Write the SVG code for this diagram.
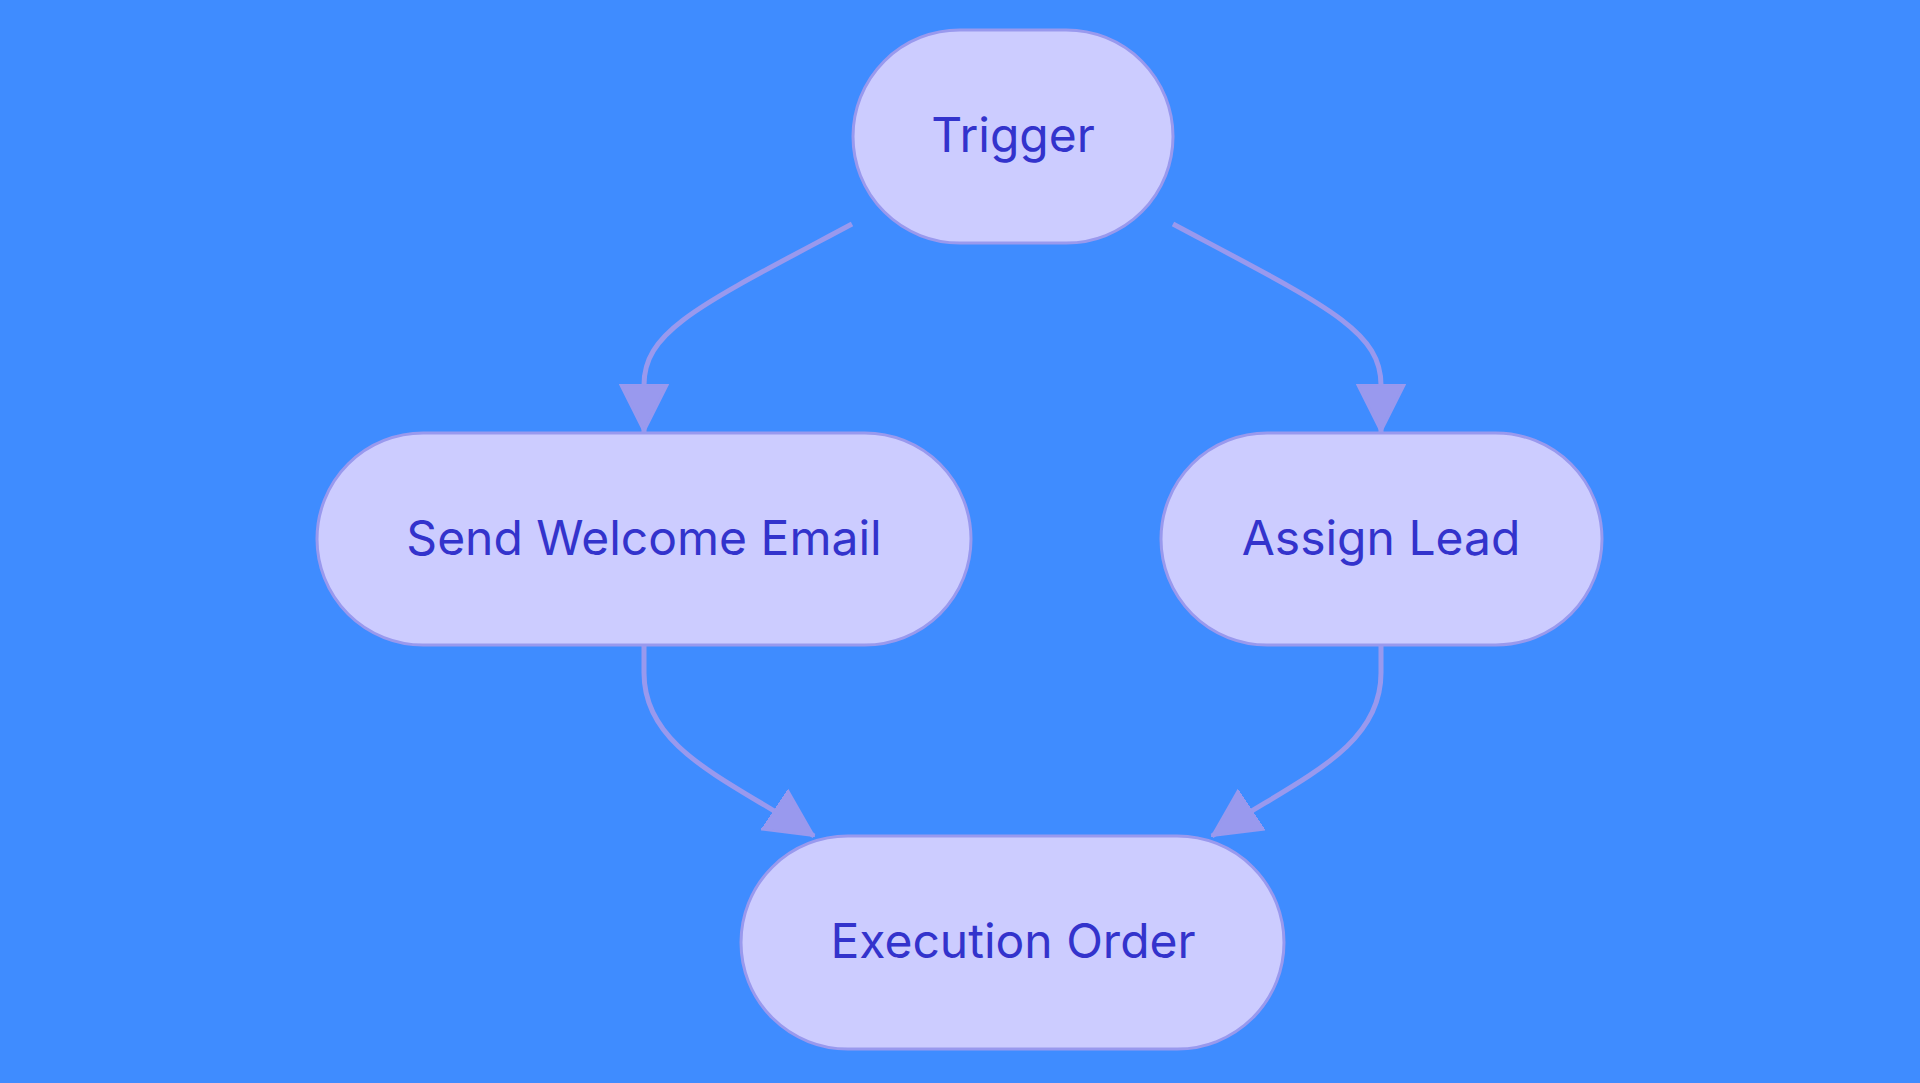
<svg xmlns="http://www.w3.org/2000/svg" width="1920" height="1083" viewBox="0 0 1920 1083">
<style>
.n{fill:#CCCCFF;stroke:#9999EE;stroke-width:3}
.t{font-family:Inter,"Noto Sans",sans-serif;font-size:48px;fill:#3333CC;text-anchor:middle;dominant-baseline:central}
.e{fill:none;stroke:#9999EE;stroke-width:5}
</style>
<defs>
<marker id="a" markerUnits="userSpaceOnUse" markerWidth="50" markerHeight="50" viewBox="0 0 46 44" refX="44" refY="22" orient="auto">
<path d="M0,0 L44,22 L0,44 Z" fill="#9999EE" stroke="#9999EE" stroke-width="2" stroke-linejoin="round"/>
</marker>
</defs>
<rect width="1920" height="1083" fill="#3F8CFF"/>
<g id="connectors">
<path class="e" d="M852,224 C700,305 644,330 644,385 L644,432" marker-end="url(#a)"/>
<path class="e" d="M1173,224 C1325,305 1381,330 1381,385 L1381,432" marker-end="url(#a)"/>
<path class="e" d="M644,645 L644,673 C644,750 730,780 814,836" marker-end="url(#a)"/>
<path class="e" d="M1381,645 L1381,673 C1381,750 1296,780 1212,836" marker-end="url(#a)"/>
</g>
<g id="trigger"><rect class="n" x="853" y="30" width="320" height="213" rx="106.5"/><text class="t" x="1013" y="134">Trigger</text></g>
<g id="welcome"><rect class="n" x="317" y="433" width="654" height="212" rx="106"/><text class="t" x="644" y="537">Send Welcome Email</text></g>
<g id="assign"><rect class="n" x="1161" y="433" width="441" height="212" rx="106"/><text class="t" x="1381" y="537">Assign Lead</text></g>
<g id="execution"><rect class="n" x="741" y="836" width="543" height="213" rx="106.5"/><text class="t" x="1013" y="940">Execution Order</text></g>
</svg>
